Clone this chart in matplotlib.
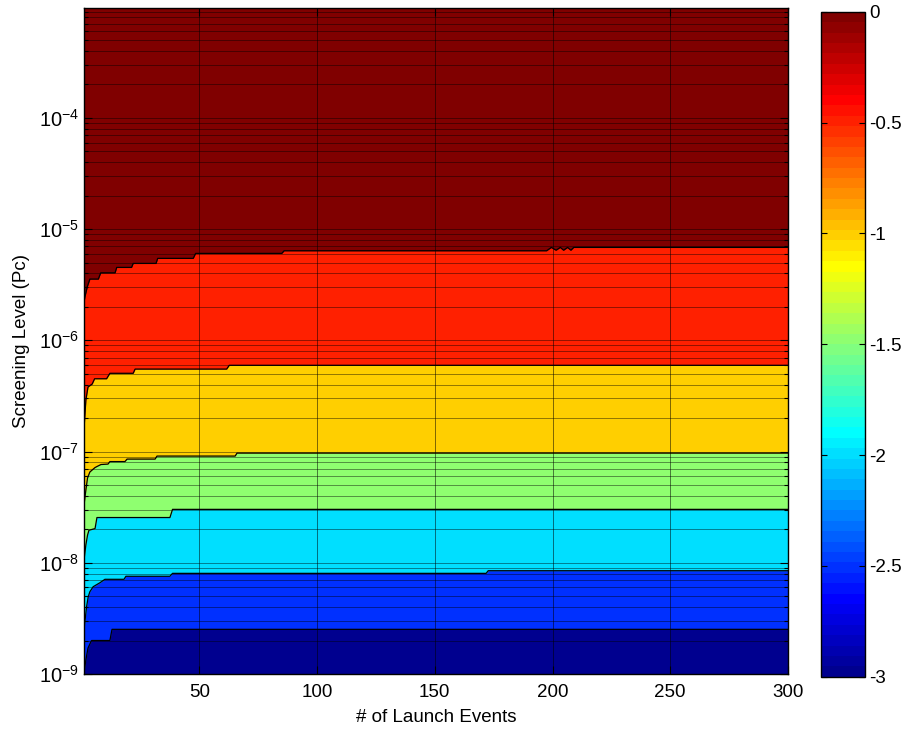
import numpy as np
import matplotlib.pyplot as plt
from matplotlib.colors import Normalize, ListedColormap
from matplotlib.cm import ScalarMappable
from matplotlib.ticker import LogLocator, FixedLocator, LogFormatterSciNotation, NullFormatter

plt.rcParams['font.family'] = ['Liberation Sans', 'DejaVu Sans']
plt.rcParams['axes.unicode_minus'] = False

#
# Data: log10 value of each band (top to bottom)
# and the boundary curves (x = launch events, y = Pc) between bands
#
band_values = [0, -0.5, -1, -1.5, -2, -2.5, -3]

# 0 / -0.5
b1_x = [1, 1.4, 2.4, 3.5, 7.1, 8.1, 14.2, 14.9, 21.2, 21.9, 31.6, 32.3, 47.4, 48.4,
        85, 86, 197.5, 199.5, 201.5, 203.3, 204.7, 206.4, 207.8, 209, 300]
b1_y = [2.2e-6, 2.46e-6, 3.03e-6, 3.55e-6, 3.55e-6, 4.04e-6, 4.04e-6, 4.52e-6, 4.52e-6,
        4.91e-6, 4.91e-6, 5.45e-6, 5.45e-6, 6.04e-6, 6.04e-6, 6.38e-6, 6.38e-6, 6.84e-6,
        6.45e-6, 6.84e-6, 6.45e-6, 6.84e-6, 6.45e-6, 6.84e-6, 6.84e-6]
# -0.5 / -1
b2_x = [1, 1.8, 2.7, 4.5, 5.5, 10.6, 12, 21.9, 22.7, 61.6, 62.7, 300]
b2_y = [1.6e-7, 2.9e-7, 3.8e-7, 4.05e-7, 4.51e-7, 4.51e-7, 5.05e-7, 5.05e-7, 5.51e-7,
        5.51e-7, 5.96e-7, 5.96e-7]
# -1 / -1.5
b3_x = [1, 1.8, 2.5, 3.5, 5.7, 6.5, 8.2, 11.2, 12, 18.4, 19.3, 31.2, 32, 65.2, 66, 300]
b3_y = [3.3e-8, 4.51e-8, 5.78e-8, 6.55e-8, 7.18e-8, 7.33e-8, 7.64e-8, 7.71e-8, 8.12e-8,
        8.12e-8, 8.55e-8, 8.55e-8, 9.1e-8, 9.1e-8, 9.68e-8, 9.68e-8]
# -1.5 / -2
b4_x = [1, 1.8, 2.5, 3.1, 5.7, 6.5, 37.5, 38.6, 300]
b4_y = [1.06e-8, 1.45e-8, 1.77e-8, 1.96e-8, 2.03e-8, 2.55e-8, 2.55e-8, 3.02e-8, 3.02e-8]
# -2 / -2.5
b5_x = [1, 2.1, 2.8, 3.5, 4.9, 7.8, 9.9, 18, 18.8, 37.5, 38.6, 171.8, 172.7, 300]
b5_y = [2.5e-9, 4.03e-9, 4.95e-9, 5.49e-9, 6.09e-9, 6.62e-9, 7.1e-9, 7.1e-9, 7.56e-9,
        7.56e-9, 8.03e-9, 8.03e-9, 8.48e-9, 8.48e-9]
# -2.5 / -3
b6_x = [1, 1.8, 2.7, 4.2, 12, 12.9, 300]
b6_y = [1.02e-9, 1.34e-9, 1.71e-9, 2.0e-9, 2.0e-9, 2.52e-9, 2.52e-9]

boundaries = [(b1_x, b1_y), (b2_x, b2_y), (b3_x, b3_y),
              (b4_x, b4_y), (b5_x, b5_y), (b6_x, b6_y)]

x_ticks = [50, 100, 150, 200, 250, 300]
y_ticks = [1e-9, 1e-8, 1e-7, 1e-6, 1e-5, 1e-4]
cbar_ticks = [0, -0.5, -1, -1.5, -2, -2.5, -3]
xlim = (1, 300)
ylim = (1e-9, 9.7e-4)

#
# MATLAB style jet(64) colormap
#
def matlab_jet(m=64):
    n = int(np.ceil(m / 4))
    u = np.concatenate([np.arange(1, n + 1) / n, np.ones(n - 1), np.arange(n, 0, -1) / n])
    g = int(np.ceil(n / 2)) - (1 if m % 4 == 1 else 0) + np.arange(1, len(u) + 1)
    r = g + n
    b = g - n
    J = np.zeros((m, 3))
    for ch, idx in enumerate((r, g, b)):
        ok = (idx >= 1) & (idx <= m)
        J[idx[ok] - 1, ch] = u[ok]
    return ListedColormap(J)

jet = matlab_jet(64)

def band_color(v):
    # band coloured by its lower contour level, as contourf does
    idx = min(int((v + 3) / 3 * 64), 63)
    return jet(idx)

fig = plt.figure(figsize=(9.1, 7.33), dpi=100)
ax = fig.add_axes([0.0923, 0.0805, 0.7736, 0.9085])
ax.set_yscale('log')
ax.set_xlim(*xlim)
ax.set_ylim(*ylim)
ax.set_facecolor(band_color(band_values[0]))

for (bx, by), v in zip(boundaries, band_values[1:]):
    ax.fill_between(bx, by, ylim[0], color=band_color(v), lw=0, zorder=1)
for bx, by in boundaries:
    ax.plot(bx, by, color='k', lw=0.9, zorder=2)

# grid
ax.set_axisbelow(False)
ax.grid(True, which='major', axis='x', color='k', lw=0.6, alpha=0.6)
ax.grid(True, which='both', axis='y', color='k', lw=0.6, alpha=0.5)

ax.set_xticks(x_ticks)
ax.yaxis.set_major_locator(FixedLocator(y_ticks))
ax.yaxis.set_major_formatter(LogFormatterSciNotation())
ax.yaxis.set_minor_locator(LogLocator(base=10, subs=np.arange(2, 10), numticks=12))
ax.yaxis.set_minor_formatter(NullFormatter())
ax.tick_params(which='both', direction='in', top=True, right=True, labelsize=13.5)
ax.tick_params(axis='y', labelsize=14.5)
ax.tick_params(which='major', length=6, width=0.8)
ax.tick_params(which='minor', length=3, width=0.8)
ax.tick_params(axis='x', pad=7)
for s in ax.spines.values():
    s.set_linewidth(1.0)

ax.set_xlabel('# of Launch Events', fontsize=13.5, labelpad=6)
ax.set_ylabel('Screening Level (Pc)', fontsize=13.5, labelpad=6)

#
# Colorbar
#
cax = fig.add_axes([0.902, 0.0768, 0.0484, 0.907])
sm = ScalarMappable(norm=Normalize(vmin=-3, vmax=0), cmap=jet)
cb = fig.colorbar(sm, cax=cax, ticks=cbar_ticks, format='%g')
cb.outline.set_linewidth(1.0)
cax.tick_params(direction='in', left=True, right=True, length=4, width=0.8,
                labelsize=13.5, pad=3)

fig.savefig('out.png', dpi=100)
